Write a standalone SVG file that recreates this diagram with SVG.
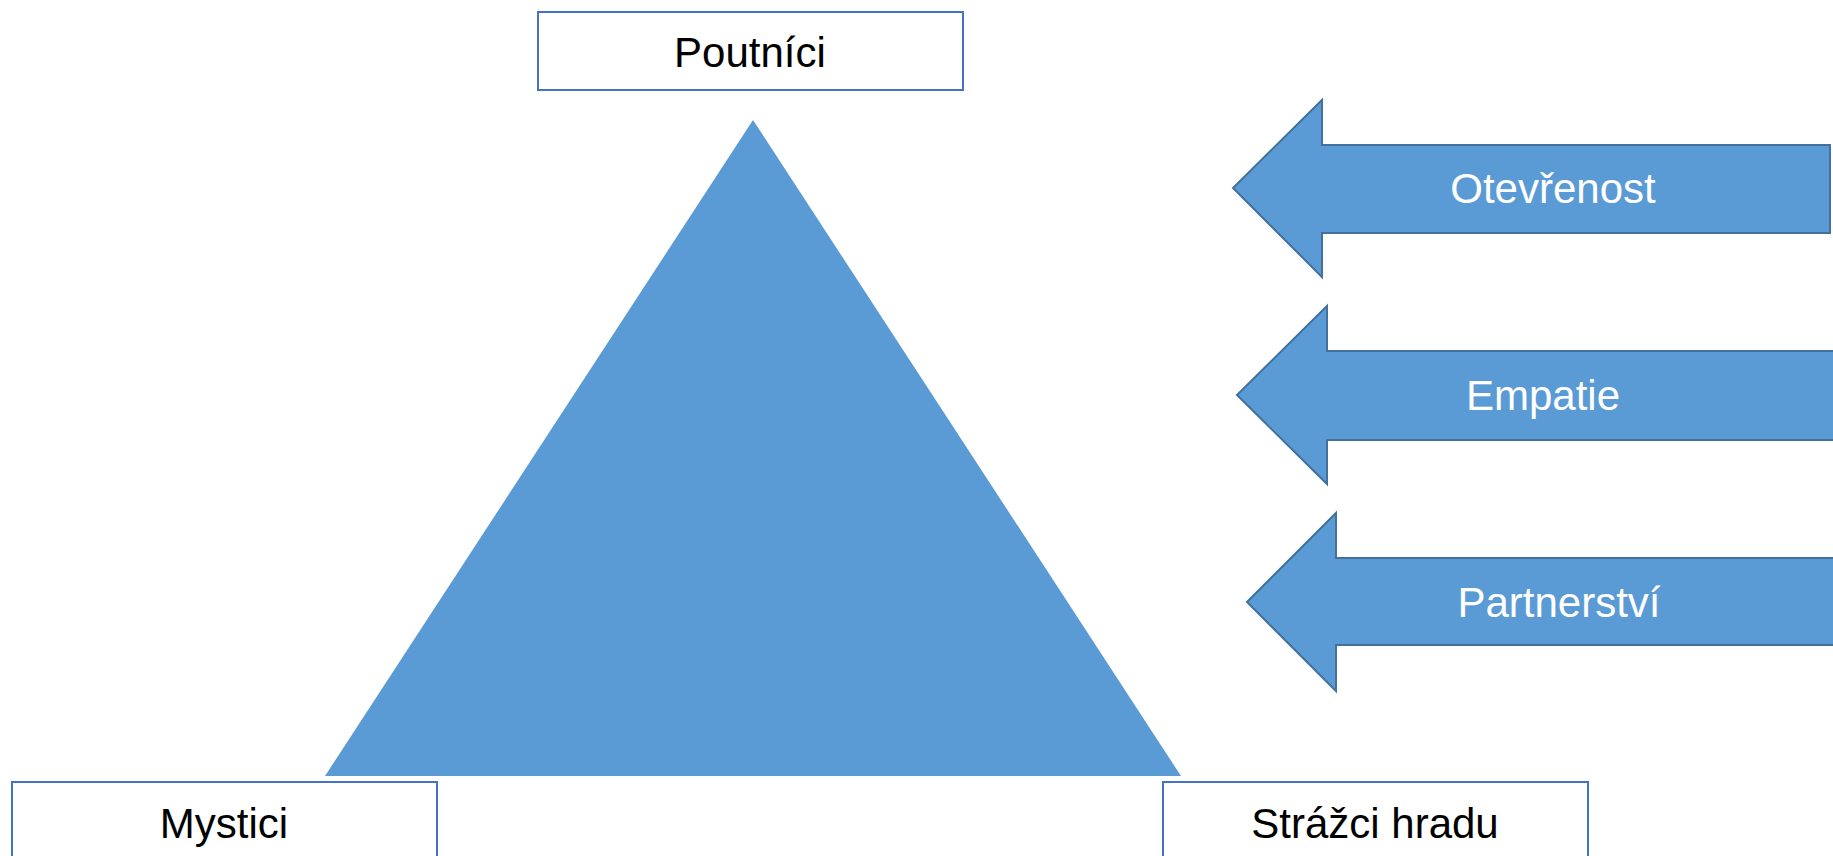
<svg xmlns="http://www.w3.org/2000/svg" width="1833" height="856" viewBox="0 0 1833 856">
<style>
.box{fill:#ffffff;stroke:#4472C4;stroke-width:2}
.lbl{font-family:"Liberation Sans",Arial,sans-serif;font-size:42px;text-anchor:middle;fill:#000000}
.arr{fill:#5B9BD5;stroke:#41719C;stroke-width:2}
.al{font-family:"Liberation Sans",Arial,sans-serif;font-size:42px;text-anchor:middle;fill:#ffffff}
</style>
<rect width="1833" height="856" fill="#ffffff"/>
<g id="triangle"><polygon points="753,120 1181,776 325,776" fill="#5B9BD5"/></g>
<g id="poutnici"><rect class="box" x="538" y="12" width="425" height="78"/><text class="lbl" x="750" y="67">Poutníci</text></g>
<g id="mystici"><rect class="box" x="12" y="782" width="425" height="90"/><text class="lbl" x="224" y="838">Mystici</text></g>
<g id="strazci"><rect class="box" x="1163" y="782" width="425" height="90"/><text class="lbl" x="1375" y="838">Strážci hradu</text></g>
<g id="otevrenost"><polygon class="arr" points="1233,188 1322,100 1322,145 1830,145 1830,233 1322,233 1322,277"/><text class="al" x="1553" y="203">Otevřenost</text></g>
<g id="empatie"><polygon class="arr" points="1237,395 1327,306 1327,351 1840,351 1840,440 1327,440 1327,484"/><text class="al" x="1543" y="410">Empatie</text></g>
<g id="partnerstvi"><polygon class="arr" points="1247,602 1336,513 1336,558 1840,558 1840,645 1336,645 1336,691"/><text class="al" x="1559" y="617">Partnerství</text></g>
<g id="connectors"></g>
</svg>
